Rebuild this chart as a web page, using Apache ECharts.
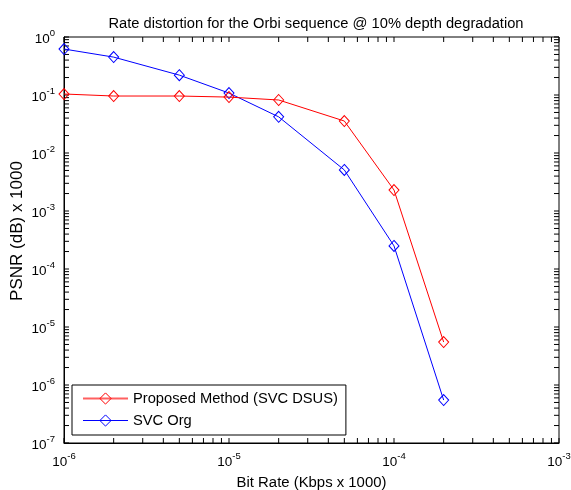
<!DOCTYPE html>
<html>
<head>
<meta charset="utf-8">
<script src="https://cdn.jsdelivr.net/npm/echarts@6/dist/echarts.min.js"></script>
<style>html,body{margin:0;padding:0;background:#fff}#c{width:571px;height:490px}</style>
</head>
<body>
<div id="c"></div>
<script>
const bitRates = [1e-6, 2e-6, 5e-6, 1e-5, 2e-5, 5e-5, 1e-4, 2e-4];
const proposed = [0.104, 0.096, 0.096, 0.092, 0.082, 0.0356, 0.0023, 5.5e-6];
const svcOrg = [0.62, 0.45, 0.22, 0.108, 0.042, 0.0051, 2.5e-4, 5.5e-7];
const seriesNames = ['Proposed Method (SVC DSUS)', 'SVC Org'];
const seriesColors = ['#ff0000', '#0000ff'];
const xDecades = [-6, -5, -4, -3];
const yDecades = [-7, -6, -5, -4, -3, -2, -1, 0];

const xMin = 1e-6, xMax = 1e-3, yMin = 1e-7, yMax = 1;
const FONT = '"Liberation Sans", Arial, sans-serif';

// tick positions (decades plus 2..9 minor ticks)
const tickData = [];
function addTicks(decades, kind) {
  for (let i = 0; i < decades.length; i++) {
    const base = Math.pow(10, decades[i]);
    tickData.push(kind === 0 ? [base, yMin, 0] : [xMin, base, 1]);
    if (i < decades.length - 1) {
      for (let m = 2; m <= 9; m++) {
        const v = m * base;
        tickData.push(kind === 0 ? [v, yMin, 0] : [xMin, v, 1]);
      }
    }
  }
}
addTicks(xDecades, 0);
addTicks(yDecades, 1);

function expLabel(v) {
  const e = Math.round(Math.log10(v));
  return '{b|10}{s|' + e + '}';
}
const richLbl = {
  b: { fontSize: 13.5, fontFamily: FONT, color: '#000', verticalAlign: 'bottom' },
  s: { fontSize: 9.5, fontFamily: FONT, color: '#000', verticalAlign: 'bottom', padding: [0, 0, 8, 0] }
};

const chart = echarts.init(document.getElementById('c'));
chart.setOption({
  animation: false,
  backgroundColor: '#fff',
  title: {
    text: 'Rate distortion for the Orbi sequence @ 10% depth degradation',
    left: 311, top: 11, textAlign: 'center',
    textStyle: { fontSize: 14.7, fontWeight: 'normal', fontFamily: FONT, color: '#000' }
  },
  grid: { left: 64, right: 12, top: 37, bottom: 47, outerBoundsMode: 'none', containLabel: false,
          show: true, borderColor: '#000', borderWidth: 1, backgroundColor: '#fff' },
  legend: {
    orient: 'vertical', left: 72, top: 385,
    data: seriesNames.map((n, i) => ({
      name: n,
      itemStyle: { color: 'rgba(255,255,255,0)', borderColor: seriesColors[i], borderWidth: 1 },
      lineStyle: { color: i === 0 ? '#ff6060' : seriesColors[i], width: i === 0 ? 2 : 1 }
    })),
    backgroundColor: '#fff', borderColor: '#000', borderWidth: 1, borderRadius: 0,
    padding: [6, 8, 7, 10], itemGap: 7, itemWidth: 45, itemHeight: 14,
    textStyle: { fontSize: 14.7, fontFamily: FONT, color: '#000' }
  },
  xAxis: {
    type: 'log', logBase: 10, min: xMin, max: xMax,
    name: 'Bit Rate (Kbps x 1000)', nameLocation: 'middle', nameGap: 32, nameMoveOverlap: false,
    nameTextStyle: { fontSize: 14.9, fontFamily: FONT, color: '#000' },
    axisLine: { show: true, lineStyle: { color: '#000', width: 1 } },
    axisTick: { show: false }, splitLine: { show: false },
    axisLabel: { formatter: expLabel, rich: richLbl, margin: 8 }
  },
  yAxis: {
    type: 'log', logBase: 10, min: yMin, max: yMax,
    name: 'PSNR (dB) x 1000', nameLocation: 'middle', nameGap: 38, nameMoveOverlap: false,
    nameTextStyle: { fontSize: 17, fontFamily: FONT, color: '#000', padding: [0, 0, 0, 18] },
    axisLine: { show: true, lineStyle: { color: '#000', width: 1 } },
    axisTick: { show: false }, splitLine: { show: false },
    axisLabel: { formatter: expLabel, rich: richLbl, margin: 9 }
  },
  series: [
    {
      type: 'custom', name: 'ticks', silent: true, z: 1,
      data: tickData, encode: { x: 0, y: 1 },
      renderItem: function (params, api) {
        const kind = api.value(2);
        const L = 5;
        if (kind === 0) {
          const b = api.coord([api.value(0), yMin]);
          const t = api.coord([api.value(0), yMax]);
          return { type: 'group', children: [
            { type: 'line', shape: { x1: b[0], y1: b[1], x2: b[0], y2: b[1] - L }, style: { stroke: '#000', lineWidth: 1 } },
            { type: 'line', shape: { x1: t[0], y1: t[1], x2: t[0], y2: t[1] + L }, style: { stroke: '#000', lineWidth: 1 } }
          ]};
        } else {
          const l = api.coord([xMin, api.value(1)]);
          const r = api.coord([xMax, api.value(1)]);
          return { type: 'group', children: [
            { type: 'line', shape: { x1: l[0], y1: l[1], x2: l[0] + L, y2: l[1] }, style: { stroke: '#000', lineWidth: 1 } },
            { type: 'line', shape: { x1: r[0], y1: r[1], x2: r[0] - L, y2: r[1] }, style: { stroke: '#000', lineWidth: 1 } }
          ]};
        }
      }
    },
    {
      name: seriesNames[0], type: 'line', z: 3,
      data: bitRates.map((x, i) => [x, proposed[i]]),
      symbol: 'diamond', symbolSize: [10, 11], showAllSymbol: true,
      lineStyle: { color: seriesColors[0], width: 1 },
      itemStyle: { color: 'rgba(255,255,255,0)', borderColor: seriesColors[0], borderWidth: 1 }
    },
    {
      name: seriesNames[1], type: 'line', z: 2,
      data: bitRates.map((x, i) => [x, svcOrg[i]]),
      symbol: 'diamond', symbolSize: [10, 11], showAllSymbol: true,
      lineStyle: { color: seriesColors[1], width: 1 },
      itemStyle: { color: 'rgba(255,255,255,0)', borderColor: seriesColors[1], borderWidth: 1 }
    }
  ]
});
</script>
</body>
</html>
